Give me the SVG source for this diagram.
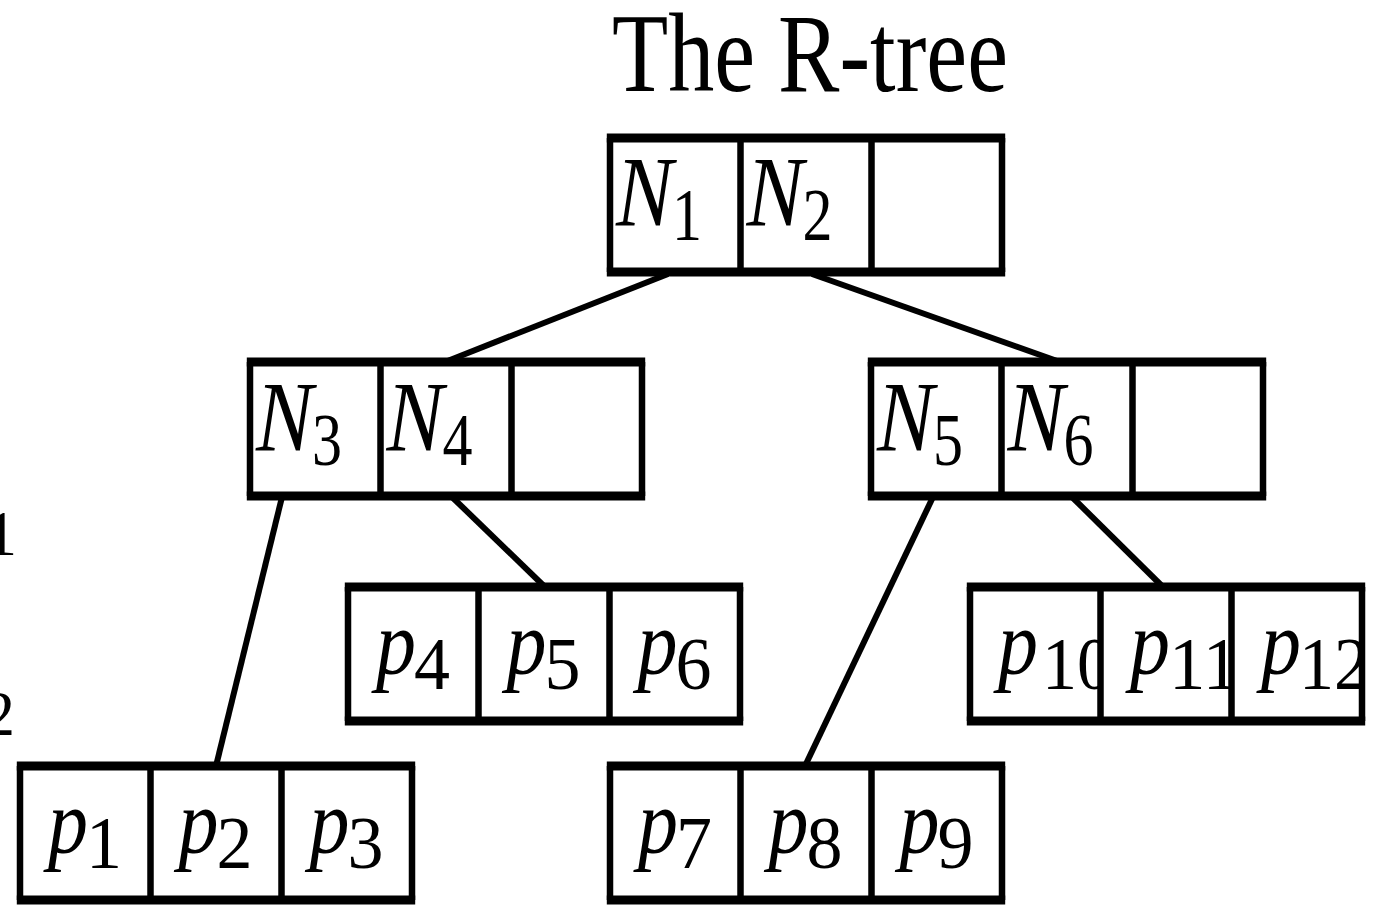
<svg xmlns="http://www.w3.org/2000/svg" xmlns:xlink="http://www.w3.org/1999/xlink" width="1376" height="905" viewBox="0 0 1376 905">
<style>
.bg{fill:#ffffff}
.cellbg{fill:#ffffff;stroke:none}
.v{stroke:#000;stroke-width:6.5;fill:none}
.h{stroke:#000;stroke-width:9;fill:none}
.conn line{stroke:#000;stroke-width:6;stroke-linecap:butt}
.title{font-family:"Liberation Serif",serif;font-size:112px;fill:#000}
.N{font-family:"Liberation Serif",serif;font-style:italic;font-size:100px;fill:#000}
.p{font-family:"Liberation Serif",serif;font-style:italic;font-size:90px;fill:#000}
.sub{font-family:"Liberation Serif",serif;font-size:74px;fill:#000}
.edge{font-family:"Liberation Serif",serif;font-size:64px;fill:#000}
</style>
<defs>
<g id="frame">
<path class="v" d="M0,0V134M130.5,0V134M261.5,0V134M392,0V134"/>
<path class="h" d="M-3.2,0H395.2M-3.2,134H395.2"/>
</g>
<clipPath id="c0"><rect x="0" y="0" width="130.5" height="134"/></clipPath>
<clipPath id="c1"><rect x="130.5" y="0" width="131" height="134"/></clipPath>
<clipPath id="c2"><rect x="261.5" y="0" width="130.5" height="134"/></clipPath>
</defs>
<rect class="bg" x="0" y="0" width="1376" height="905"/>

<text class="title" x="612" y="91" textLength="396" lengthAdjust="spacingAndGlyphs">The R-tree</text>

<text class="edge" x="17" y="555" text-anchor="end">1</text>
<text class="edge" x="15" y="735" text-anchor="end">2</text>

<g id="connectors" class="conn">
<line x1="668" y1="274" x2="445" y2="362"/>
<line x1="812" y1="274" x2="1060" y2="362"/>
<line x1="282" y1="497" x2="216" y2="766"/>
<line x1="452" y1="497" x2="545" y2="587"/>
<line x1="933" y1="497" x2="805" y2="766"/>
<line x1="1072" y1="497" x2="1163" y2="587"/>
</g>

<g id="root" transform="translate(610,138)">
<rect class="cellbg" x="0" y="0" width="392" height="134"/>
<text class="N" x="6" y="87" textLength="57" lengthAdjust="spacingAndGlyphs">N</text>
<text class="sub" x="62" y="102" textLength="30" lengthAdjust="spacingAndGlyphs">1</text>
<text class="N" x="136.5" y="87" textLength="57" lengthAdjust="spacingAndGlyphs">N</text>
<text class="sub" x="192.5" y="102" textLength="30" lengthAdjust="spacingAndGlyphs">2</text>
<use xlink:href="#frame"/>
</g>

<g id="n34" transform="translate(250,362)">
<rect class="cellbg" x="0" y="0" width="392" height="134"/>
<text class="N" x="6" y="88" textLength="57" lengthAdjust="spacingAndGlyphs">N</text>
<text class="sub" x="62" y="103" textLength="30" lengthAdjust="spacingAndGlyphs">3</text>
<text class="N" x="136.5" y="88" textLength="57" lengthAdjust="spacingAndGlyphs">N</text>
<text class="sub" x="192.5" y="103" textLength="30" lengthAdjust="spacingAndGlyphs">4</text>
<use xlink:href="#frame"/>
</g>

<g id="n56" transform="translate(871,362)">
<rect class="cellbg" x="0" y="0" width="392" height="134"/>
<text class="N" x="6" y="88" textLength="57" lengthAdjust="spacingAndGlyphs">N</text>
<text class="sub" x="62" y="103" textLength="30" lengthAdjust="spacingAndGlyphs">5</text>
<text class="N" x="136.5" y="88" textLength="57" lengthAdjust="spacingAndGlyphs">N</text>
<text class="sub" x="192.5" y="103" textLength="30" lengthAdjust="spacingAndGlyphs">6</text>
<use xlink:href="#frame"/>
</g>

<g id="p456" transform="translate(348,587)">
<rect class="cellbg" x="0" y="0" width="392" height="134"/>
<text class="p" x="28" y="87" textLength="40" lengthAdjust="spacingAndGlyphs">p</text>
<text class="sub" x="66" y="102" textLength="36" lengthAdjust="spacingAndGlyphs">4</text>
<text class="p" x="158.5" y="87" textLength="40" lengthAdjust="spacingAndGlyphs">p</text>
<text class="sub" x="196.5" y="102" textLength="36" lengthAdjust="spacingAndGlyphs">5</text>
<text class="p" x="289.5" y="87" textLength="40" lengthAdjust="spacingAndGlyphs">p</text>
<text class="sub" x="327.5" y="102" textLength="36" lengthAdjust="spacingAndGlyphs">6</text>
<use xlink:href="#frame"/>
</g>

<g id="p101112" transform="translate(970,587)">
<rect class="cellbg" x="0" y="0" width="392" height="134"/>
<g clip-path="url(#c0)">
<text class="p" x="28" y="87" textLength="40" lengthAdjust="spacingAndGlyphs">p</text>
<text class="sub" x="72" y="102" textLength="70" lengthAdjust="spacingAndGlyphs">10</text>
</g>
<g clip-path="url(#c1)">
<text class="p" x="160" y="87" textLength="40" lengthAdjust="spacingAndGlyphs">p</text>
<text class="sub" x="199" y="102" textLength="70" lengthAdjust="spacingAndGlyphs">11</text>
</g>
<g clip-path="url(#c2)">
<text class="p" x="291" y="87" textLength="40" lengthAdjust="spacingAndGlyphs">p</text>
<text class="sub" x="329" y="102" textLength="70" lengthAdjust="spacingAndGlyphs">12</text>
</g>
<use xlink:href="#frame"/>
</g>

<g id="p123" transform="translate(20,766)">
<rect class="cellbg" x="0" y="0" width="392" height="134"/>
<text class="p" x="28" y="87" textLength="40" lengthAdjust="spacingAndGlyphs">p</text>
<text class="sub" x="66" y="102" textLength="36" lengthAdjust="spacingAndGlyphs">1</text>
<text class="p" x="158.5" y="87" textLength="40" lengthAdjust="spacingAndGlyphs">p</text>
<text class="sub" x="196.5" y="102" textLength="36" lengthAdjust="spacingAndGlyphs">2</text>
<text class="p" x="289.5" y="87" textLength="40" lengthAdjust="spacingAndGlyphs">p</text>
<text class="sub" x="327.5" y="102" textLength="36" lengthAdjust="spacingAndGlyphs">3</text>
<use xlink:href="#frame"/>
</g>

<g id="p789" transform="translate(610,766)">
<rect class="cellbg" x="0" y="0" width="392" height="134"/>
<text class="p" x="28" y="87" textLength="40" lengthAdjust="spacingAndGlyphs">p</text>
<text class="sub" x="66" y="102" textLength="36" lengthAdjust="spacingAndGlyphs">7</text>
<text class="p" x="158.5" y="87" textLength="40" lengthAdjust="spacingAndGlyphs">p</text>
<text class="sub" x="196.5" y="102" textLength="36" lengthAdjust="spacingAndGlyphs">8</text>
<text class="p" x="289.5" y="87" textLength="40" lengthAdjust="spacingAndGlyphs">p</text>
<text class="sub" x="327.5" y="102" textLength="36" lengthAdjust="spacingAndGlyphs">9</text>
<use xlink:href="#frame"/>
</g>
</svg>
